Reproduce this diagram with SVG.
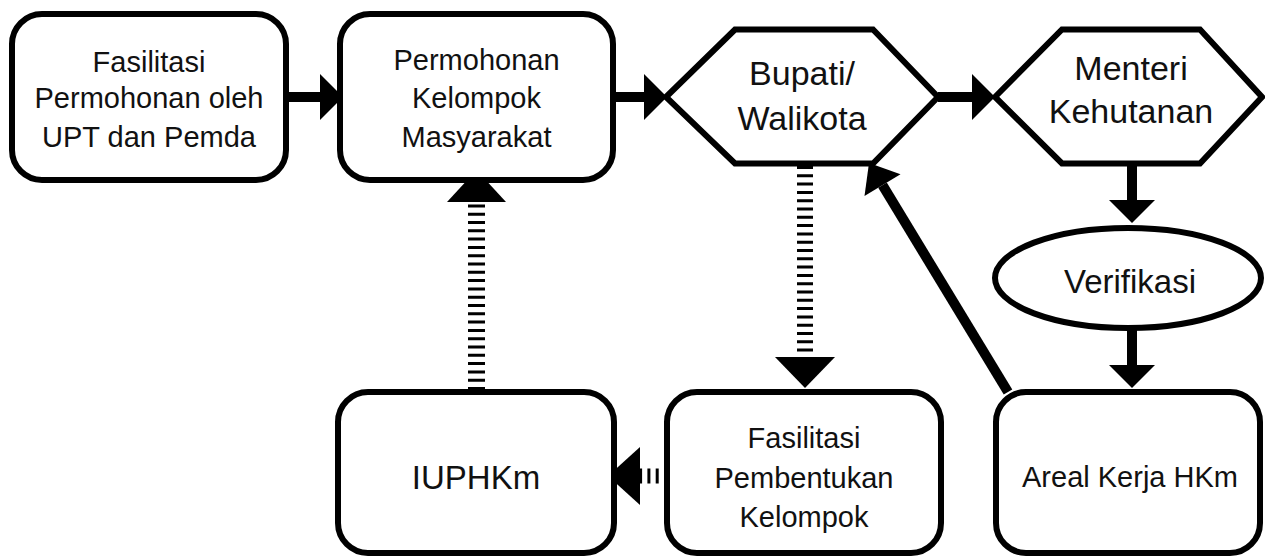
<svg xmlns="http://www.w3.org/2000/svg" width="1265" height="556" viewBox="0 0 1265 556">
<style>
.shape{fill:#fff;stroke:#000;stroke-width:6;stroke-linejoin:miter}
.t{font-family:"Liberation Sans",Arial,sans-serif;fill:#111;text-anchor:middle;font-size:29px}
.big{font-size:34px}
.mid{font-size:33px}
.line{stroke:#000;stroke-width:10;fill:none}
.dash{stroke:#000;fill:none;stroke-dasharray:3 5.3}
.head{fill:#000;stroke:none}
</style>
<rect width="1265" height="556" fill="#fff"/>
<g id="connectors">
  <line class="line" x1="286" y1="97" x2="322" y2="97"/>
  <polygon class="head" points="320,74 343,97 320,120"/>
  <line class="line" x1="613" y1="97" x2="646" y2="97"/>
  <polygon class="head" points="644,74 667,97 644,120"/>
  <line class="line" x1="938" y1="97" x2="974" y2="97"/>
  <polygon class="head" points="972,74 995,97 972,120"/>
  <line class="line" x1="1132" y1="163" x2="1132" y2="202"/>
  <polygon class="head" points="1109,200 1155,200 1132,223"/>
  <line class="line" x1="1132" y1="328" x2="1132" y2="367"/>
  <polygon class="head" points="1109,365 1155,365 1132,388"/>
  <line class="dash" style="stroke-width:17" x1="476.5" y1="390" x2="476.5" y2="202"/>
  <polygon class="head" points="447,202 506,202 476.5,170"/>
  <line class="dash" style="stroke-width:16" x1="805" y1="166" x2="805" y2="356"/>
  <polygon class="head" points="775,357 835,357 805,388"/>
  <line class="dash" style="stroke-width:15" x1="667" y1="476" x2="640" y2="476"/>
  <polygon class="head" points="640,447 640,505 608,476"/>
  <line class="line" x1="1008" y1="392" x2="882.5" y2="185.2"/>
  <polygon class="head" points="869,163 900.5,174.3 864.5,196.1"/>
</g>
<g id="node-fasilitasi-permohonan">
  <rect class="shape" x="12" y="14" width="274" height="166" rx="30"/>
  <text class="t" x="149" y="72">Fasilitasi</text>
  <text class="t" x="149" y="108">Permohonan oleh</text>
  <text class="t" x="149" y="147">UPT dan Pemda</text>
</g>
<g id="node-permohonan-kelompok">
  <rect class="shape" x="340" y="14" width="273" height="166" rx="30"/>
  <text class="t" x="476.5" y="70">Permohonan</text>
  <text class="t" x="476.5" y="108">Kelompok</text>
  <text class="t" x="476.5" y="147">Masyarakat</text>
</g>
<g id="node-bupati">
  <polygon class="shape" points="666,97 735,29.5 873,29.5 938,97 873,163.5 735,163.5"/>
  <text class="t big" x="802" y="85">Bupati/</text>
  <text class="t big" x="802" y="130">Walikota</text>
</g>
<g id="node-menteri">
  <polygon class="shape" points="995,97 1062,29.5 1200,29.5 1262,97 1200,163.5 1062,163.5"/>
  <text class="t big" x="1131" y="80">Menteri</text>
  <text class="t big" x="1131" y="123">Kehutanan</text>
</g>
<g id="node-verifikasi">
  <ellipse class="shape" cx="1128" cy="278" rx="133" ry="50"/>
  <text class="t mid" x="1130" y="293">Verifikasi</text>
</g>
<g id="node-iuphkm">
  <rect class="shape" x="338" y="392" width="276" height="161" rx="30"/>
  <text class="t mid" x="476" y="489">IUPHKm</text>
</g>
<g id="node-fasilitasi-pembentukan">
  <rect class="shape" x="667" y="392" width="274" height="161" rx="30"/>
  <text class="t" x="804" y="448">Fasilitasi</text>
  <text class="t" x="804" y="488">Pembentukan</text>
  <text class="t" x="804" y="527">Kelompok</text>
</g>
<g id="node-areal-kerja">
  <rect class="shape" x="996" y="392" width="264" height="161" rx="30"/>
  <text class="t" x="1130" y="487">Areal Kerja HKm</text>
</g>
</svg>
